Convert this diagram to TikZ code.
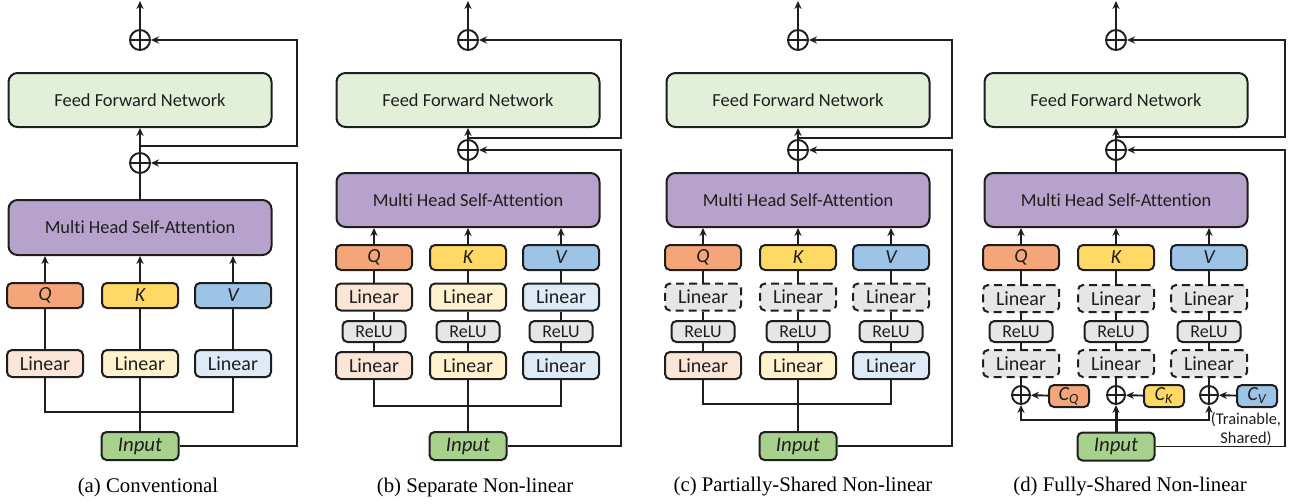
\documentclass[tikz,border=0pt]{standalone}
\usepackage{fontspec}
\setmainfont[Ligatures=NoCommon]{Carlito}
\newfontfamily\capfont{Liberation Serif}
\usetikzlibrary{arrows.meta,calc}
\definecolor{ffnc}{HTML}{E2F0D9}
\definecolor{mhsac}{HTML}{B6A2CA}
\definecolor{qc}{HTML}{F4A67A}
\definecolor{kc}{HTML}{FFD966}
\definecolor{vc}{HTML}{9DC3E6}
\definecolor{lq}{HTML}{FBE5D6}
\definecolor{lk}{HTML}{FFF2CC}
\definecolor{lv}{HTML}{DEEBF7}
\definecolor{gry}{HTML}{E7E6E6}
\definecolor{inpc}{HTML}{A9D18E}
\definecolor{ink}{HTML}{1E1E1E}
\tikzset{
  box/.style={draw=ink, line width=1pt, rounded corners=2.5pt, inner sep=0pt, text=ink},
  big/.style={box, rounded corners=4.5pt, minimum width=131.5pt, minimum height=27pt, font=\fontsize{9.2}{11}\selectfont},
  qkv/.style={box, minimum width=38pt, minimum height=12.5pt, font=\fontsize{10}{12}\selectfont\itshape},
  lin/.style={box, minimum width=38pt, minimum height=13.5pt, font=\fontsize{10}{12}\selectfont},
  dlin/.style={lin, dash pattern=on 4pt off 2.5pt, fill=gry},
  relu/.style={box, fill=gry, minimum width=31.5pt, minimum height=10.5pt, font=\fontsize{9}{11}\selectfont},
  inp/.style={box, fill=inpc, minimum width=38.5pt, minimum height=14pt, font=\fontsize{10.4}{12}\selectfont\itshape},
  oplus/.style={circle, draw=ink, line width=0.95pt, minimum size=10pt, inner sep=0pt,
    path picture={\draw[ink, line width=0.95pt] (path picture bounding box.north) -- (path picture bounding box.south)
      (path picture bounding box.west) -- (path picture bounding box.east);}},
  soplus/.style={oplus, minimum size=9pt},
  cbox/.style={box, minimum width=20pt, minimum height=11pt, font=\fontsize{10}{11}\selectfont\itshape},
  ln/.style={draw=ink, line width=0.95pt},
  arr/.style={ln, -{Stealth[length=4pt,width=3.6pt]}},
  captext/.style={font=\capfont\fontsize{10.4}{12}\selectfont, text=black},
  note/.style={font=\fontsize{8.2}{9.2}\selectfont, align=center, text=ink, inner sep=0pt}
}
% #1 prefix, #2 cx, #3 right x, #4 skip1 y, #5 circle2 y, #6 MHSA centre y, #7 MHSA height
\newcommand\toppart[7]{%
  \coordinate (#1R) at (#3,0);
  \coordinate (#1out) at (#2,1);
  \node[oplus] (#1p1) at (#2,40) {};
  \node[big, fill=ffnc] (#1ffn) at (#2,100) {Feed Forward Network};
  \node[oplus] (#1p2) at (#2,#5) {};
  \node[big, fill=mhsac, minimum height=#7] (#1mh) at (#2,#6) {Multi Head Self-Attention};
  \coordinate (#1s) at (#2,#4);
  \draw[arr] (#1p1) -- (#1out);
  \draw[arr] (#1p2) -- (#1ffn);
  \draw[ln] (#1mh) -- (#1p2);
  \draw[arr] (#1s) -- (#1s -| #1R) |- (#1p1);
}
\begin{document}
\begin{tikzpicture}[x=0.5pt,y=-0.5pt]
\useasboundingbox (0,0) rectangle (1299,503);

% ---------------- (a) ----------------
\toppart{a}{140}{297}{146}{163}{227.5}{27.5pt}
\foreach \n/\x/\c/\l/\t in {q/45/qc/lq/Q, k/140/kc/lk/K, v/233/vc/lv/V}{
  \node[qkv, fill=\c] (a\n) at (\x,295.5) {\t};
  \node[lin, fill=\l] (a\n l) at (\x,363.5) {Linear};
  \draw[arr] (a\n) -- (a\n |- amh.south);
  \draw[ln] (a\n l) -- (a\n);
}
\node[inp] (ain) at (140,446) {Input};
\coordinate (aj) at (140,412);
\draw[ln] (aql) |- (aj) -| (avl);
\draw[ln] (akl) -- (ain);
\draw[arr] (ain) -- (ain -| aR) |- (ap2);
\node[captext] (capa) at (148,487) {(a) Conventional};

% ---------------- (b) ----------------
\toppart{b}{468}{621}{138}{150}{200}{27pt}
\foreach \n/\x/\c/\l/\t in {q/374/qc/lq/Q, k/468/kc/lk/K, v/561/vc/lv/V}{
  \node[qkv, fill=\c] (b\n) at (\x,257.5) {\t};
  \node[lin, fill=\l] (b\n a) at (\x,297) {Linear};
  \node[relu] (b\n r) at (\x,331.5) {ReLU};
  \node[lin, fill=\l] (b\n b) at (\x,365.5) {Linear};
  \draw[arr] (b\n) -- (b\n |- bmh.south);
  \draw[ln] (b\n a) -- (b\n);
  \draw[ln] (b\n r) -- (b\n a);
  \draw[ln] (b\n b) -- (b\n r);
}
\node[inp] (bin) at (468,446) {Input};
\coordinate (bj) at (468,406);
\draw[ln] (bqb) |- (bj) -| (bvb);
\draw[ln] (bkb) -- (bin);
\draw[arr] (bin) -- (bin -| bR) |- (bp2);
\node[captext] (capb) at (475,487) {(b) Separate Non-linear};

% ---------------- (c) ----------------
\toppart{c}{798}{952}{138}{150}{200}{27pt}
\foreach \n/\x/\c/\l/\t in {q/703/qc/lq/Q, k/798/kc/lk/K, v/891/vc/lv/V}{
  \node[qkv, fill=\c] (c\n) at (\x,257.5) {\t};
  \node[dlin] (c\n a) at (\x,297) {Linear};
  \node[relu] (c\n r) at (\x,331.5) {ReLU};
  \node[lin, fill=\l] (c\n b) at (\x,365.5) {Linear};
  \draw[arr] (c\n) -- (c\n |- cmh.south);
  \draw[ln] (c\n a) -- (c\n);
  \draw[ln] (c\n r) -- (c\n a);
  \draw[ln] (c\n b) -- (c\n r);
}
\node[inp] (cin) at (798,446) {Input};
\coordinate (cj) at (798,404);
\draw[ln] (cqb) |- (cj) -| (cvb);
\draw[ln] (ckb) -- (cin);
\draw[arr] (cin) -- (cin -| cR) |- (cp2);
\node[captext] (capc) at (803,487) {(c) Partially-Shared Non-linear};

% ---------------- (d) ----------------
\toppart{d}{1116}{1285}{137}{150}{200}{27pt}
\foreach \n/\x/\c/\t in {q/1021/qc/Q, k/1116/kc/K, v/1209/vc/V}{
  \node[qkv, fill=\c] (d\n) at (\x,257.5) {\t};
  \node[dlin] (d\n a) at (\x,298.5) {Linear};
  \node[relu] (d\n r) at (\x,331.5) {ReLU};
  \node[dlin] (d\n b) at (\x,363.5) {Linear};
  \node[soplus] (d\n p) at (\x,395) {};
  \node[cbox, fill=\c] (d\n c) at (\x+48,396) {C\textsubscript{\t}};
  \draw[arr] (d\n) -- (d\n |- dmh.south);
  \draw[ln] (d\n a) -- (d\n);
  \draw[ln] (d\n r) -- (d\n a);
  \draw[ln] (d\n b) -- (d\n r);
  \draw[ln] (d\n p) -- (d\n b);
  \draw[arr] (d\n c) -- (d\n p);
}
\node[inp] (din) at (1116,446.5) {Input};
\coordinate (dj) at (1116,420);
\draw[arr] (dj) -| (dqp);
\draw[arr] (dj) -| (dvp);
\draw[arr, line width=1.5pt] (din) -- (dkp);
\draw[arr] (din) -- (din -| dR) |- (dp2);
\node[note] (dnote) at (1246,429) {(Trainable,\\Shared)};
\node[captext] (capd) at (1130,487) {(d) Fully-Shared Non-linear};
\end{tikzpicture}
\end{document}
